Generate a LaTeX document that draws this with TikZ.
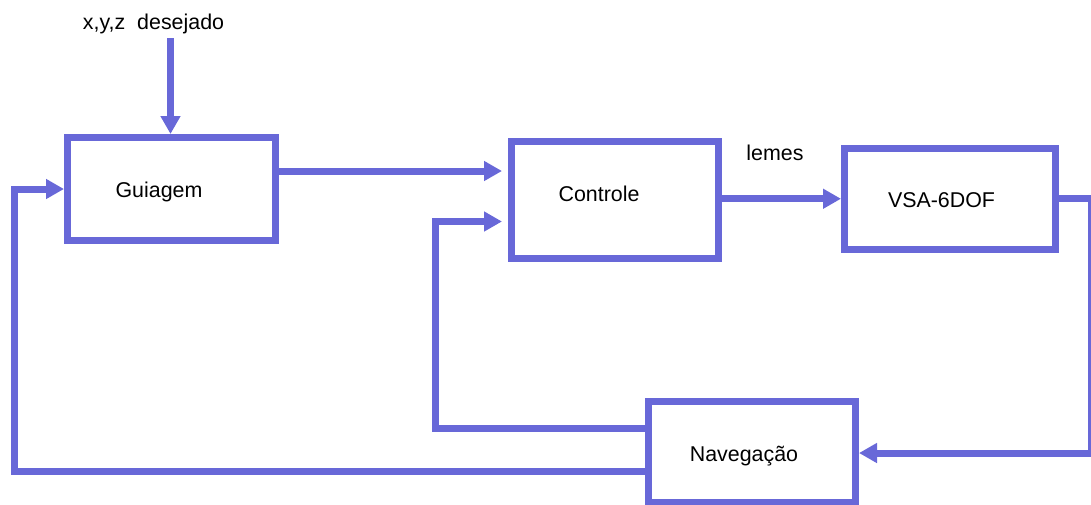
\documentclass[tikz,border=0pt]{standalone}
\usepackage{fontspec}
\setmainfont{Liberation Sans}
\usetikzlibrary{arrows.meta}
\definecolor{flow}{RGB}{104,104,216}
\begin{document}
\begin{tikzpicture}[x=1pt,y=1pt,
  blockbox/.style={draw=flow, line width=7pt, fill=white, inner sep=0pt},
  lbl/.style={anchor=base, inner sep=0pt, font=\fontsize{21.4}{25}\selectfont},
  arr/.style={draw=flow, line width=7pt, -{Triangle[length=18pt,width=19pt]}},
  wire/.style={draw=flow, line width=7pt}]
\useasboundingbox (0,0) rectangle (1091,-504);
% blocks
\node[blockbox, minimum width=208pt, minimum height=103pt] (guia) at (171.5,-189) {};
\node[blockbox, minimum width=207.5pt, minimum height=117pt] (ctrl) at (614.75,-200) {};
\node[blockbox, minimum width=211pt, minimum height=101.5pt] (vsa) at (950,-198.75) {};
\node[blockbox, minimum width=207pt, minimum height=101.5pt] (nav) at (752,-451.75) {};
% labels
\node[lbl] (xyz) at (153.5,-29.5) {x,y,z\ \ desejado};
\node[lbl] (guialbl) at (159,-197) {Guiagem};
\node[lbl] (ctrllbl) at (599,-201) {Controle};
\node[lbl] (lemes) at (775,-160.7) {lemes};
\node[lbl] (vsalbl) at (941.5,-207) {VSA-6DOF};
\node[lbl] (navlbl) at (744,-461) {Navegação};
% route points
\coordinate (in) at (170.5,-38);
\coordinate (c1) at (502,-171);
\coordinate (r) at (1091,-453);
\coordinate (fb1) at (435,-428);
\coordinate (fb1t) at (502,-221.5);
\coordinate (fb2) at (14,-471.5);
% connectors
\draw[arr] (in) -- (in |- guia.north);
\draw[arr] (guia.east |- c1) -- (c1);
\draw[arr] (ctrl.east |- vsa.west) -- (vsa.west);
\draw[arr] (vsa.east) -| (r) -- (r -| nav.east);
\draw[arr] (fb1 -| nav.west) -- (fb1) |- (fb1t);
\draw[arr] (fb2 -| nav.west) -- (fb2) |- (guia.west);
\end{tikzpicture}
\end{document}
